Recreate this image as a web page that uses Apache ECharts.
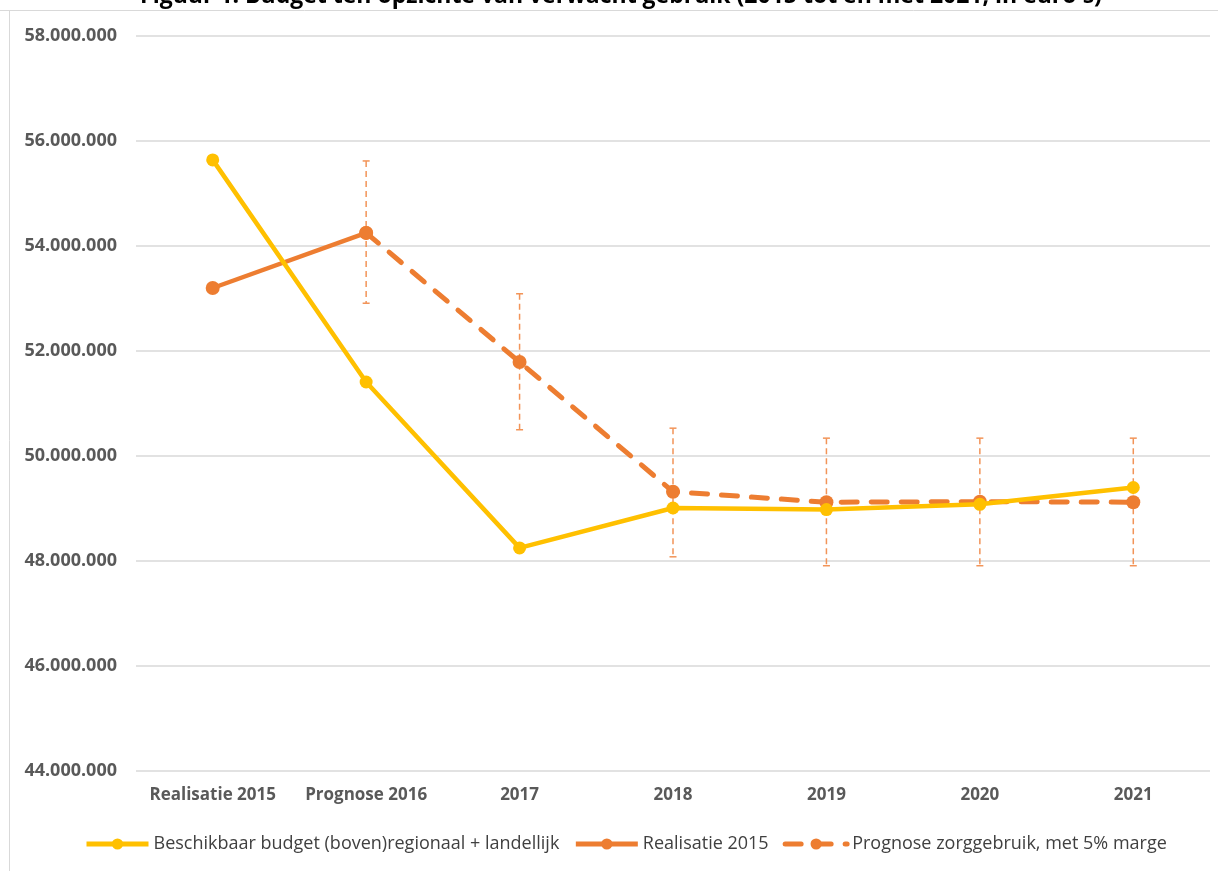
<!DOCTYPE html>
<html>
<head>
<meta charset="utf-8">
<script src="https://cdn.jsdelivr.net/npm/echarts@6/dist/echarts.min.js"></script>
<style>
html,body{margin:0;padding:0;background:#fff;}
#chart{width:1218px;height:871px;}
</style>
</head>
<body>
<div id="chart"></div>
<script>
var titleText = "Figuur 1. Budget ten opzichte van verwacht gebruik (2015 tot en met 2021, in euro's)";
var categories = ['Realisatie 2015', 'Prognose 2016', '2017', '2018', '2019', '2020', '2021'];
var seriesNames = ['Beschikbaar budget (boven)regionaal + landellijk', 'Realisatie 2015', 'Prognose zorggebruik, met 5% marge'];
var budget = [55640000, 51410000, 48250000, 49010000, 48980000, 49080000, 49400000];
var realisatie = [53200000, 54250000, null, null, null, null, null];
var prognose = [null, 54250000, 51790000, 49320000, 49120000, 49130000, 49120000];
var errLow = [null, 52910000, 50500000, 48080000, 47910000, 47910000, 47910000];
var errHigh = [null, 55620000, 53090000, 50530000, 50340000, 50340000, 50340000];
var yMin = 44000000, yMax = 58000000, yStep = 2000000;

var errData = [];
for (var i = 0; i < categories.length; i++) {
  if (errLow[i] != null) errData.push([i, errLow[i], errHigh[i]]);
}

function fmt(v) {
  return String(v).replace(/\B(?=(\d{3})+(?!\d))/g, '.');
}

var chart = echarts.init(document.getElementById('chart'), null, {renderer: 'canvas'});
var labelFont = '"Open Sans", sans-serif';
var yellow = '#FFC000', orange = '#ED7D31', errColor = '#F29458';

chart.setOption({
  animation: false,
  backgroundColor: '#ffffff',
  graphic: [
    {type: 'line', shape: {x1: 0, y1: 10.5, x2: 1218, y2: 10.5}, style: {stroke: '#d9d9d9', lineWidth: 1}, silent: true},
    {type: 'line', shape: {x1: 9.5, y1: 10, x2: 9.5, y2: 871}, style: {stroke: '#d9d9d9', lineWidth: 1}, silent: true},
    {type: 'text', x: 621, y: 8, style: {text: titleText, fill: '#000', font: 'bold 23px "Open Sans", sans-serif', align: 'center', verticalAlign: 'bottom'}, silent: true}
  ],
  grid: {left: 136, right: 8, top: 36, bottom: 100, containLabel: false},
  legend: {
    top: 830,
    left: 79,
    itemWidth: 62,
    itemHeight: 14,
    itemGap: 14,
    data: seriesNames,
    lineStyle: {width: 5},
    textStyle: {fontFamily: labelFont, fontSize: 18, color: '#404040'}
  },
  xAxis: {
    type: 'category',
    data: categories,
    boundaryGap: true,
    axisLine: {show: false},
    axisTick: {show: false},
    axisLabel: {interval: 0, fontFamily: labelFont, fontWeight: 'bold', fontSize: 17, color: '#595959', margin: 16}
  },
  yAxis: {
    type: 'value',
    min: yMin,
    max: yMax,
    interval: yStep,
    axisLine: {show: false},
    axisTick: {show: false},
    splitLine: {lineStyle: {color: '#d9d9d9', width: 1.5}},
    axisLabel: {fontFamily: labelFont, fontWeight: 'bold', fontSize: 18, color: '#595959', margin: 19, formatter: fmt}
  },
  series: [
    {
      name: 'errorbars',
      type: 'custom',
      data: errData,
      z: 1,
      renderItem: function (params, api) {
        var x = api.value(0);
        var lo = api.coord([x, api.value(1)]);
        var hi = api.coord([x, api.value(2)]);
        var cw = 3.5;
        var st = {stroke: errColor, lineWidth: 1.5, lineDash: [6, 4]};
        var cs = {stroke: errColor, lineWidth: 1.5};
        return {
          type: 'group',
          children: [
            {type: 'line', shape: {x1: hi[0], y1: hi[1], x2: lo[0], y2: lo[1]}, style: st},
            {type: 'line', shape: {x1: hi[0] - cw, y1: hi[1], x2: hi[0] + cw, y2: hi[1]}, style: cs},
            {type: 'line', shape: {x1: lo[0] - cw, y1: lo[1], x2: lo[0] + cw, y2: lo[1]}, style: cs}
          ]
        };
      }
    },
    {
      name: seriesNames[2],
      type: 'line',
      data: prognose,
      z: 3,
      symbol: 'circle',
      symbolSize: 14,
      itemStyle: {color: orange},
      lineStyle: {color: orange, width: 5, type: [16, 14], cap: 'round'}
    },
    {
      name: seriesNames[1],
      type: 'line',
      data: realisatie,
      z: 4,
      symbol: 'circle',
      symbolSize: 14,
      itemStyle: {color: orange},
      lineStyle: {color: orange, width: 4.5}
    },
    {
      name: seriesNames[0],
      type: 'line',
      data: budget,
      z: 5,
      symbol: 'circle',
      symbolSize: 13,
      itemStyle: {color: yellow},
      lineStyle: {color: yellow, width: 4.5}
    }
  ]
});
</script>
</body>
</html>
